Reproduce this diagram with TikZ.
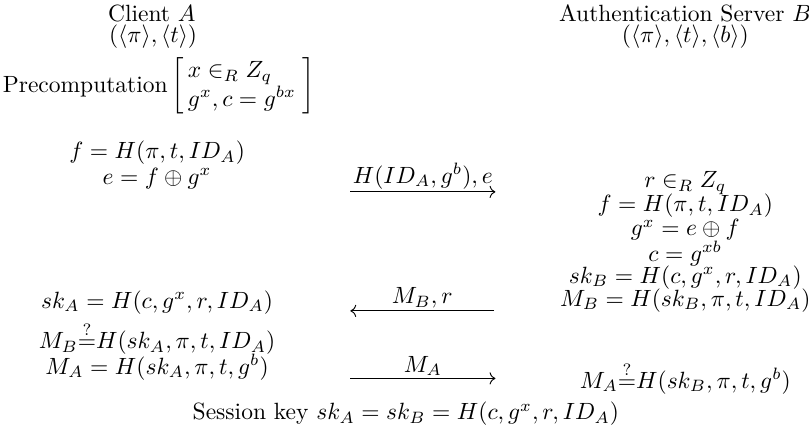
\documentclass[tikz,border=0pt]{standalone}
\usepackage{amsmath}
\usepackage{amssymb}
\usetikzlibrary{positioning, arrows.meta, calc}

\begin{document}
\begin{tikzpicture}[
            every node/.style={inner sep=1pt},
            msg/.style={->, thin},
            lbl/.style={midway, above}
      ]
      \useasboundingbox (0,0) rectangle (12.10,6.39);

      % Parties
      \node (cli) at (2.27, 6.19) {Client $A$};
      \node (clikey) at (2.29, 5.84) {$(\langle\pi\rangle, \langle t\rangle)$};
      \node (srv) at (10.25, 6.19) {Authentication Server $B$};
      \node (srvkey) at (10.25, 5.84) {$(\langle\pi\rangle, \langle t\rangle, \langle b\rangle)$};

      % Precomputation
      \node[anchor=west] (pre) at (0, 5.10) {Precomputation\,$\left[\begin{array}{@{\,}l@{\;}} x\in_R Z_q\\ g^x, c=g^{bx}\end{array}\right]$};

      % Client, first message
      \node (fA) at (2.35, 4.10) {$f=H(\pi,t,ID_A)$};
      \node (eA) at (2.35, 3.72) {$e=f\oplus g^x$};

      % Server side
      \node (rB) at (10.25, 3.65) {$r\in_R Z_q$};
      \node (fB) at (10.25, 3.31) {$f=H(\pi,t,ID_A)$};
      \node (gB) at (10.25, 2.95) {$g^x=e\oplus f$};
      \node (cB) at (10.25, 2.60) {$c=g^{xb}$};
      \node (skB) at (10.25, 2.24) {$sk_B=H(c,g^x,r,ID_A)$};
      \node (mB) at (10.25, 1.90) {$M_B=H(sk_B,\pi,t,ID_A)$};

      % Client, second part
      \node (skA) at (2.35, 1.87) {$sk_A=H(c,g^x,r,ID_A)$};
      \node (chkA) at (2.35, 1.33) {$M_B{\stackrel{?}{=}}H(sk_A,\pi,t,ID_A)$};
      \node (mA) at (2.35, 0.90) {$M_A=H(sk_A,\pi,t,g^b)$};
      \node (chkB) at (10.25, 0.74) {$M_A{\stackrel{?}{=}}H(sk_B,\pi,t,g^b)$};

      % Session key
      \node (key) at (6.07, 0.20) {Session key $sk_A=sk_B=H(c,g^x,r,ID_A)$};

      % Message ends
      \coordinate (m1a) at (5.24, 3.52);
      \coordinate (m1b) at (7.41, 3.52);
      \coordinate (m2a) at (7.39, 1.74);
      \coordinate (m2b) at (5.24, 1.74);
      \coordinate (m3a) at (5.24, 0.73);
      \coordinate (m3b) at (7.41, 0.73);

      \draw[msg] (m1a) -- node[lbl]{$H(ID_A,g^b),e$} (m1b);
      \draw[msg] (m2a) -- node[lbl]{$M_B,r$} (m2b);
      \draw[msg] (m3a) -- node[lbl]{$M_A$} (m3b);
\end{tikzpicture}
\end{document}
